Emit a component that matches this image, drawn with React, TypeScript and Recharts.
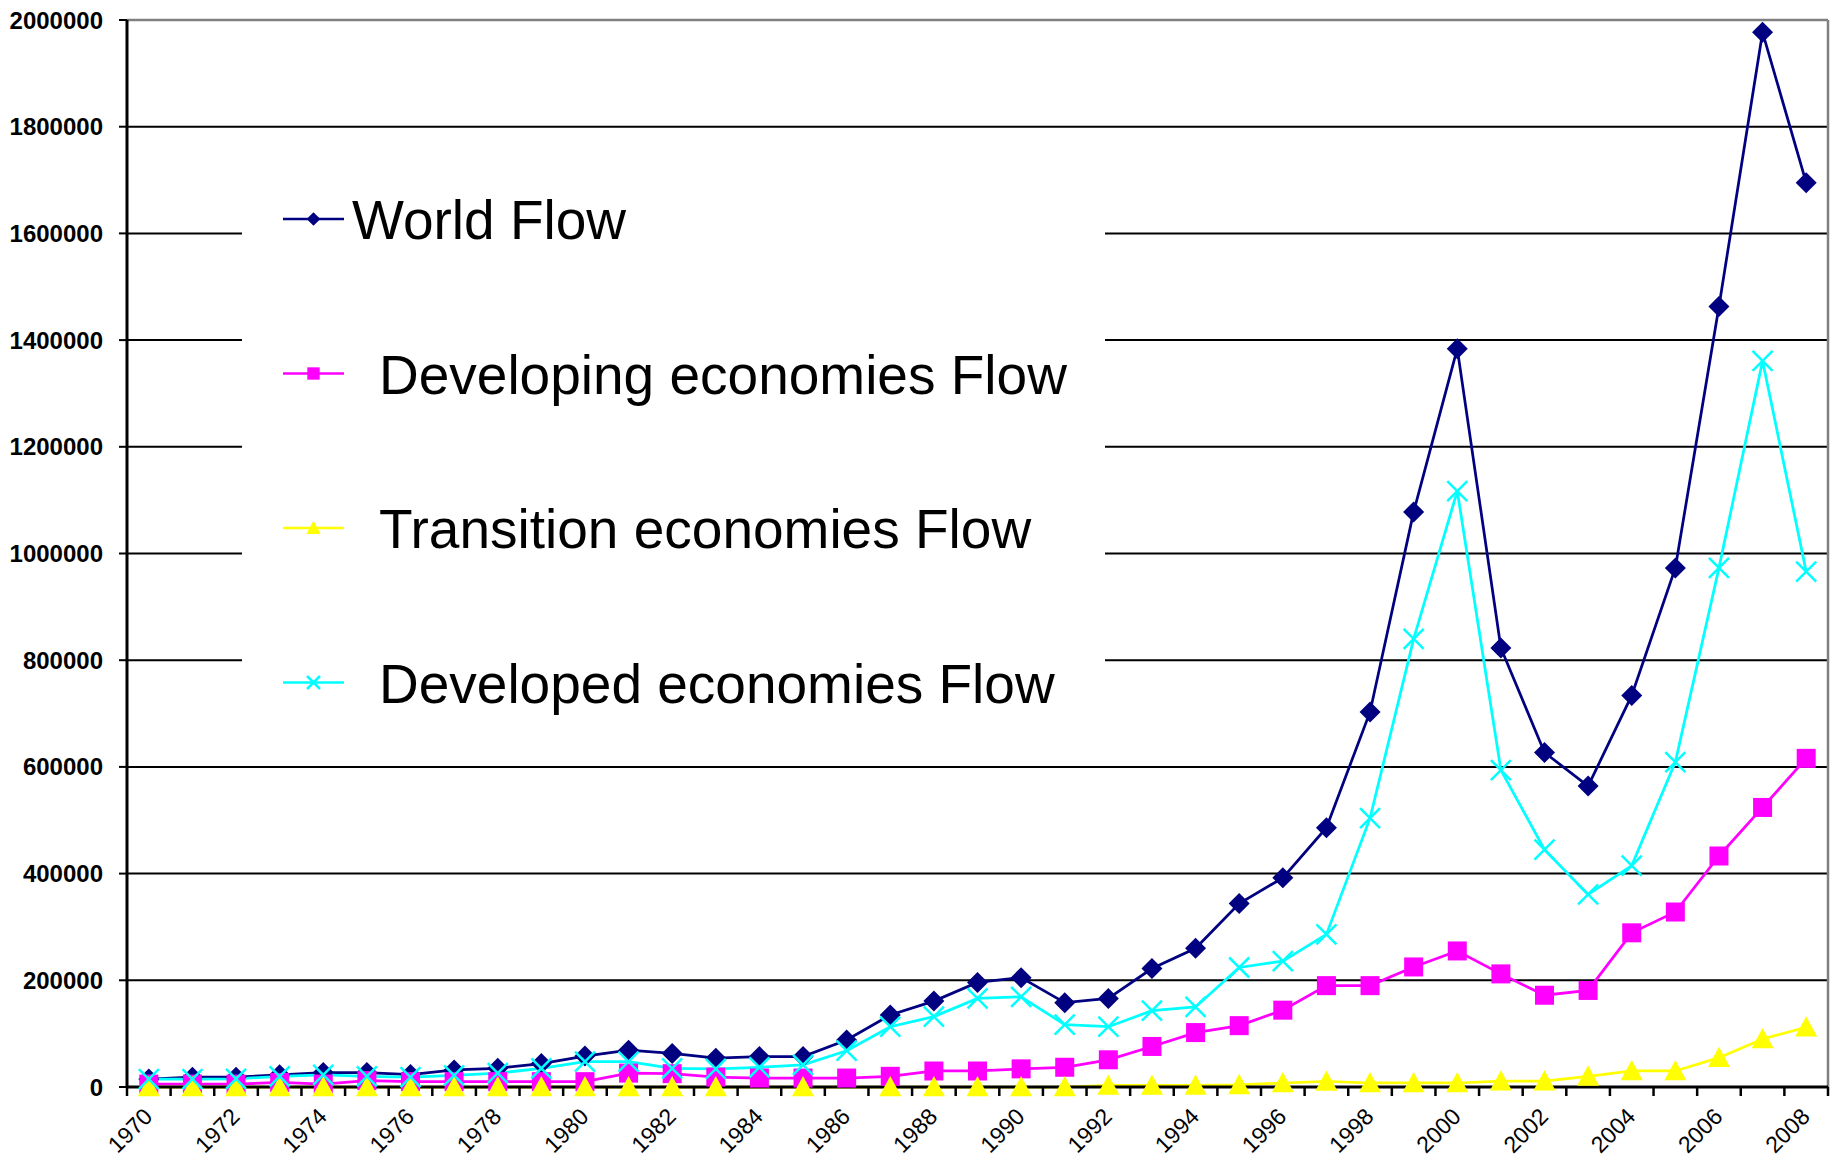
import React from "react";
import { CartesianGrid, Legend, Line, LineChart, ReferenceLine, XAxis, YAxis } from "recharts";

// categories
const years = [
  1970, 1971, 1972, 1973, 1974, 1975, 1976, 1977, 1978, 1979,
  1980, 1981, 1982, 1983, 1984, 1985, 1986, 1987, 1988, 1989,
  1990, 1991, 1992, 1993, 1994, 1995, 1996, 1997, 1998, 1999,
  2000, 2001, 2002, 2003, 2004, 2005, 2006, 2007, 2008,
];
const yearLabels = [1970, 1972, 1974, 1976, 1978, 1980, 1982, 1984, 1986, 1988, 1990, 1992, 1994, 1996, 1998, 2000, 2002, 2004, 2006, 2008];
const yTicks = [0, 200000, 400000, 600000, 800000, 1000000, 1200000, 1400000, 1600000, 1800000, 2000000];

const seriesNames = ["World Flow", "Developing economies Flow", "Transition economies Flow", "Developed economies Flow"];

// values
const worldFlow = [
  14800, 18500, 18500, 22800, 27000, 27000, 23400, 32000, 35000, 44000,
  58000, 69000, 63000, 54000, 57000, 57000, 88000, 135000, 161000, 196000,
  205000, 158000, 166000, 222000, 260000, 344000, 392000, 486000, 703000, 1078000,
  1384000, 823000, 627000, 564000, 734000, 973000, 1463000, 1977000, 1695000,
];
const developingFlow = [
  5500, 5500, 5500, 8600, 5500, 12000, 10000, 10000, 10000, 10000,
  10000, 26000, 25000, 18600, 16800, 16800, 16800, 20000, 30000, 30000,
  34000, 37000, 51000, 76000, 102000, 115000, 144000, 190000, 190000, 225000,
  255000, 212000, 172000, 181000, 289000, 328000, 433000, 524000, 616000,
];
const transitionFlow = [
  0, 0, 0, 0, 0, 0, 0, 0, 0, 0,
  0, 0, 0, 0, null, 0, null, 0, 0, 0,
  0, 0, 3000, 3000, 3000, 4000, 7500, 10500, 7500, 7500,
  7500, 11000, 11000, 20000, 30000, 30000, 55000, 90000, 112000,
];
const developedFlow = [
  14800, 14800, 15400, 19700, 22800, 19700, 18500, 22000, 26000, 35000,
  47500, 47500, 35000, 34000, 37000, 41600, 68000, 113000, 132000, 166000,
  169000, 117000, 113000, 143000, 150000, 224000, 236000, 286000, 504000, 840000,
  1117000, 594000, 445000, 361000, 415000, 609000, 973000, 1361000, 966000,
];

const rows = years.map((year, i) => ({
  year,
  world: worldFlow[i],
  developing: developingFlow[i],
  transition: transitionFlow[i],
  developed: developedFlow[i],
}));

const seriesStyle = [
  { key: "world", color: "#000080", shape: "diamond" },
  { key: "developing", color: "#FF00FF", shape: "square" },
  { key: "transition", color: "#FFFF00", shape: "triangle" },
  { key: "developed", color: "#00FFFF", shape: "cross" },
];

const FONT = "'Liberation Sans', Arial, sans-serif";

const xTicks = [...years.map((y) => y - 0.5), 2008.5, ...yearLabels].sort((a, b) => a - b);

function Marker({ cx, cy, shape, color, k = 1 }: { cx: number; cy: number; shape: string; color: string; k?: number }) {
  if (cx == null || cy == null || Number.isNaN(cy)) return <g />;
  if (shape === "diamond") {
    const r = 10.5 * k;
    return <polygon points={`${cx},${cy - r} ${cx + r},${cy} ${cx},${cy + r} ${cx - r},${cy}`} fill={color} />;
  }
  if (shape === "square") {
    const r = 9.5 * k;
    return <rect x={cx - r} y={cy - r} width={r * 2} height={r * 2} fill={color} />;
  }
  if (shape === "triangle") {
    const r = 11 * k;
    return <polygon points={`${cx},${cy - r} ${cx + r},${cy + r * 0.85} ${cx - r},${cy + r * 0.85}`} fill={color} />;
  }
  const r = 10 * k;
  return (
    <g stroke={color} strokeWidth={2.5}>
      <line x1={cx - r} y1={cy - r} x2={cx + r} y2={cy + r} />
      <line x1={cx - r} y1={cy + r} x2={cx + r} y2={cy - r} />
    </g>
  );
}

function XTick({ x, y, payload }: any) {
  const v = payload.value;
  if (!Number.isInteger(v)) {
    return <line x1={x} x2={x} y1={y} y2={y + 9} stroke="#000" strokeWidth={2.5} />;
  }
  const tx = x + 5;
  const ty = y + 31;
  return (
    <text x={tx} y={ty} transform={`rotate(-45, ${tx}, ${ty})`} textAnchor="end" fontSize={23} fontFamily={FONT} fill="#000">
      {v}
    </text>
  );
}

function LegendBox() {
  return (
    <svg width={863} height={590} style={{ display: "block" }}>
      <rect width={863} height={590} fill="#fff" />
      {seriesStyle.map((s, i) => {
        const cy = 74 + i * 154.5;
        return (
          <g key={s.key}>
            <line x1={41} x2={102} y1={cy} y2={cy} stroke={s.color} strokeWidth={2.5} />
            <Marker cx={71.5} cy={cy} shape={s.shape} color={s.color} k={0.65} />
            <text x={i === 0 ? 110 : 137} y={cy + 20} fontSize={55} fontFamily={FONT} fill="#000">
              {seriesNames[i]}
            </text>
          </g>
        );
      })}
    </svg>
  );
}

export default function App() {
  return (
    <div style={{ position: "absolute", left: 0, top: 0, background: "#fff" }}>
      <LineChart width={1835} height={1158} data={rows} margin={{ top: 20, right: 7, bottom: 0, left: 0 }}>
        <CartesianGrid vertical={false} stroke="#000" strokeWidth={2} />
        <XAxis
          dataKey="year"
          type="number"
          domain={[1969.5, 2008.5]}
          ticks={xTicks}
          interval={0}
          height={71}
          tickLine={false}
          tickSize={0}
          tickMargin={0}
          tick={<XTick />}
          axisLine={{ stroke: "#000", strokeWidth: 3 }}
        />
        <YAxis
          width={127}
          domain={[0, 2000000]}
          ticks={yTicks}
          interval={0}
          tickSize={8}
          tickMargin={16}
          tickLine={{ stroke: "#000", strokeWidth: 2 }}
          axisLine={{ stroke: "#000", strokeWidth: 3 }}
          tick={{ fill: "#000", fontSize: 24, fontWeight: "bold", fontFamily: FONT }}
        />
        <ReferenceLine y={2000000} stroke="#808080" strokeWidth={2.5} />
        <ReferenceLine x={2008.5} stroke="#808080" strokeWidth={2.5} />
        {seriesStyle.map((s, i) => (
          <Line
            key={s.key}
            dataKey={s.key}
            name={seriesNames[i]}
            type="linear"
            stroke={s.color}
            strokeWidth={2.75}
            connectNulls
            isAnimationActive={false}
            activeDot={false}
            dot={(p: any) => <Marker key={`${s.key}-${p.index}`} cx={p.cx} cy={p.cy} shape={s.shape} color={s.color} />}
          />
        ))}
        <Legend
          layout="vertical"
          align="center"
          verticalAlign="middle"
          content={() => <LegendBox />}
          wrapperStyle={{ position: "absolute", left: 242, top: 145, width: 863, height: 590 }}
        />
      </LineChart>
    </div>
  );
}
